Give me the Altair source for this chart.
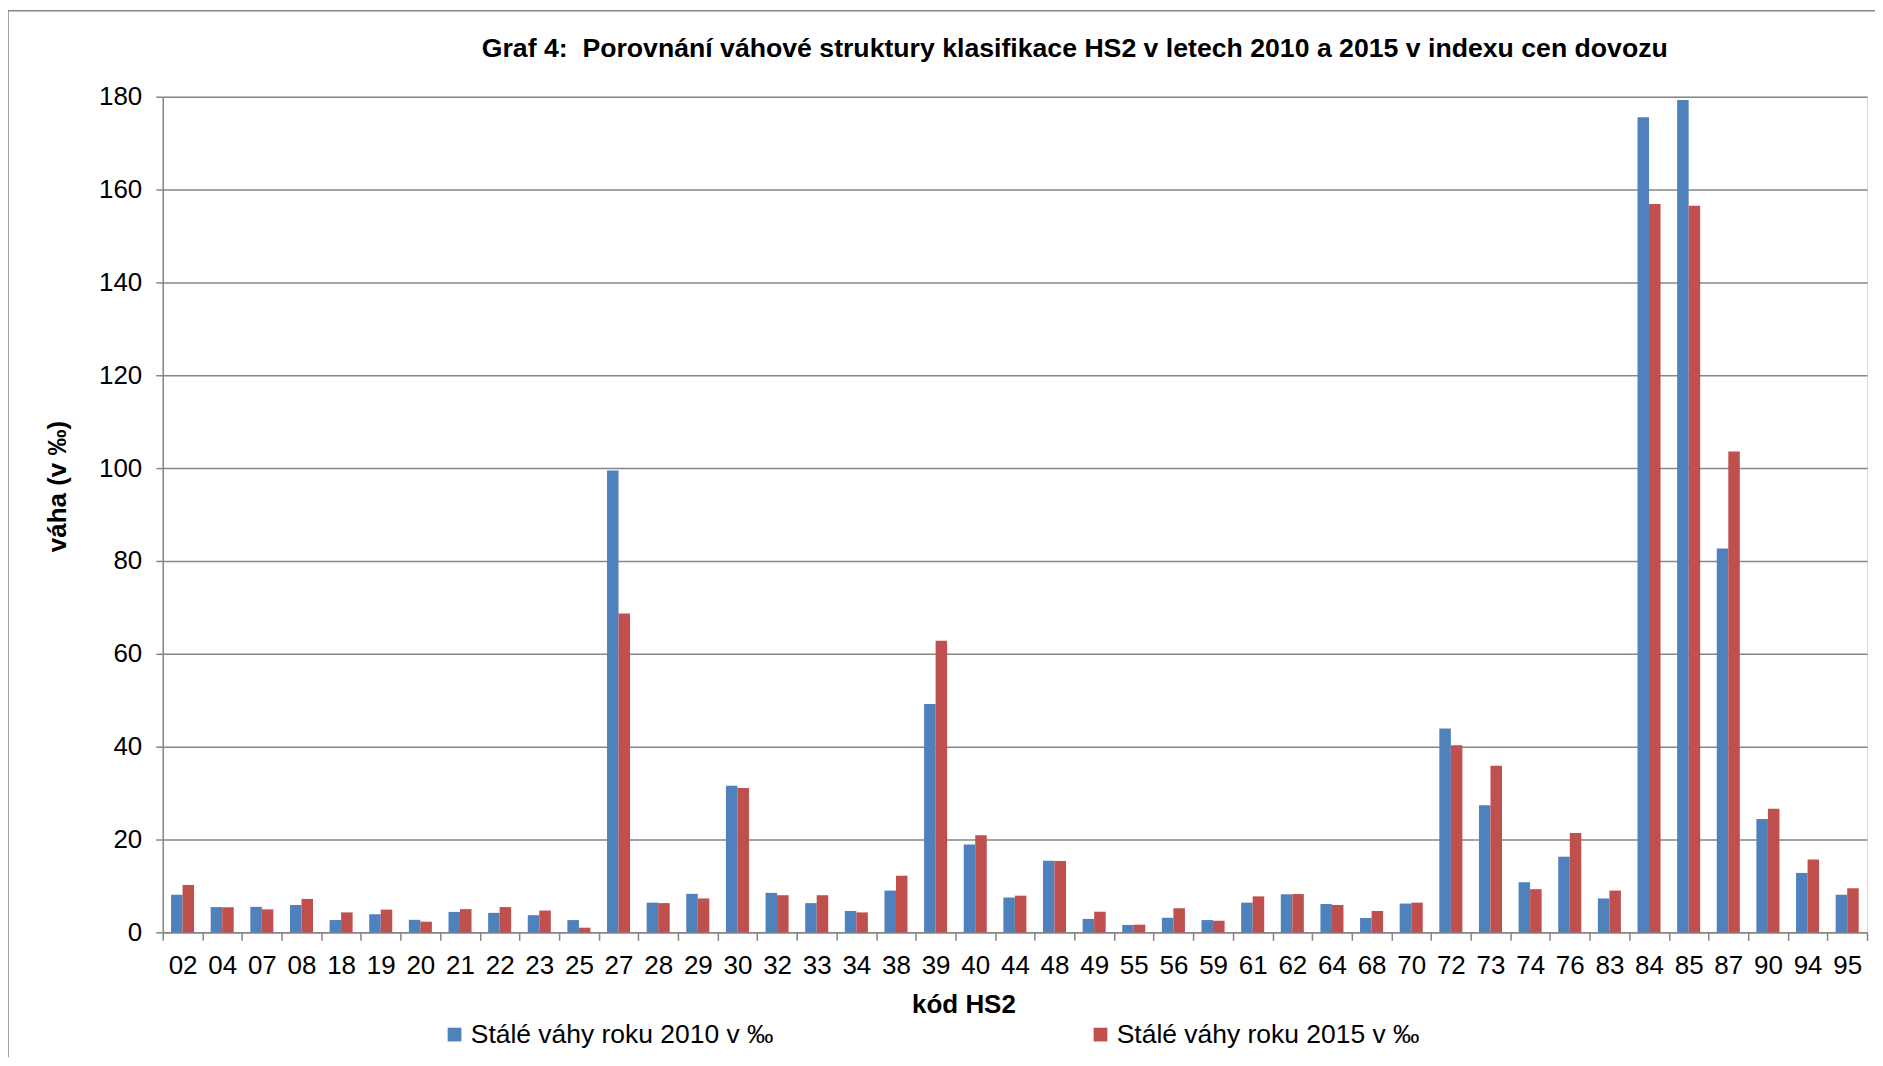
import altair as alt
import pandas as pd

codes = ["02", "04", "07", "08", "18", "19", "20", "21", "22", "23", "25", "27", "28", "29",
         "30", "32", "33", "34", "38", "39", "40", "44", "48", "49", "55", "56", "59", "61",
         "62", "64", "68", "70", "72", "73", "74", "76", "83", "84", "85", "87", "90", "94", "95"]

w2010 = [8.1, 5.45, 5.5, 5.9, 2.65, 3.9, 2.7, 4.4, 4.2, 3.7, 2.65, 99.5, 6.4, 8.3,
         31.6, 8.5, 6.3, 4.6, 9.0, 49.2, 18.9, 7.5, 15.4, 2.9, 1.6, 3.15, 2.65, 6.4,
         8.2, 6.1, 3.1, 6.2, 43.9, 27.4, 10.8, 16.3, 7.3, 175.6, 179.3, 82.7, 24.4, 12.8, 8.1]

w2015 = [10.2, 5.4, 4.95, 7.2, 4.3, 4.9, 2.3, 5.0, 5.45, 4.7, 1.0, 68.7, 6.3, 7.3,
         31.1, 8.0, 8.0, 4.3, 12.2, 62.8, 20.9, 7.9, 15.35, 4.45, 1.65, 5.2, 2.5, 7.75,
         8.25, 5.9, 4.6, 6.4, 40.3, 35.9, 9.3, 21.4, 9.0, 156.9, 156.5, 103.6, 26.6, 15.7, 9.5]

series = ["Stálé váhy roku 2010 v ‰", "Stálé váhy roku 2015 v ‰"]
colors = ["#4F81BD", "#C0504D"]
y_ticks = [0, 20, 40, 60, 80, 100, 120, 140, 160, 180]
title_text = "Graf 4:\u00a0 Porovnání váhové struktury klasifikace HS2 v letech 2010 a 2015 v indexu cen dovozu"

rows = []
for c, a, b in zip(codes, w2010, w2015):
    rows.append({"kod": c, "serie": series[0], "vaha": a})
    rows.append({"kod": c, "serie": series[1], "vaha": b})
df = pd.DataFrame(rows)

FONT = "Liberation Sans"
GRAY = "#868686"
W, H = 1707, 837

bars = alt.Chart(df).mark_bar().encode(
    x=alt.X("kod:N", sort=codes,
            scale=alt.Scale(paddingInner=0, paddingOuter=0),
            axis=alt.Axis(title="kód HS2", labelAngle=0, tickBand="extent",
                          labelFont=FONT, labelFontSize=26, labelColor="black",
                          labelPadding=12, tickSize=8, tickColor=GRAY, tickWidth=1.5,
                          domainColor=GRAY, domainWidth=1.5,
                          titleFont=FONT, titleFontSize=26, titleFontWeight="bold",
                          titleColor="black", titleX=802, titleY=72,
                          titleBaseline="middle", titleAlign="center", grid=False)),
    xOffset=alt.XOffset("serie:N", sort=series,
                        scale=alt.Scale(paddingOuter=0.72, paddingInner=0)),
    y=alt.Y("vaha:Q", scale=alt.Scale(domain=[0, 180], nice=False),
            axis=alt.Axis(values=y_ticks, title="váha (v ‰)",
                          labelFont=FONT, labelFontSize=26, labelColor="black",
                          labelPadding=14, tickSize=7, tickColor=GRAY, tickWidth=1.5,
                          domainColor=GRAY, domainWidth=1.5,
                          grid=True, gridColor=GRAY, gridWidth=1.5,
                          titleFont=FONT, titleFontSize=26, titleFontWeight="bold",
                          titleColor="black", titleX=-105, titleY=390, titleAngle=270,
                          titleBaseline="middle", titleAlign="center")),
    color=alt.Color("serie:N", sort=series,
                    scale=alt.Scale(domain=series, range=colors),
                    legend=alt.Legend(orient="none", legendX=279, legendY=926,
                                      direction="horizontal", title=None,
                                      symbolType="square", symbolSize=190,
                                      symbolStrokeWidth=0, labelFont=FONT,
                                      labelFontSize=26.5, labelColor="black",
                                      labelOffset=3, labelLimit=500,
                                      columnPadding=314, padding=0)),
)

frame_df = pd.DataFrame({"a": [0]})
frame_top = alt.Chart(frame_df).mark_rule(color=GRAY, strokeWidth=1.5).encode(
    x=alt.value(-155), x2=alt.value(W + 8), y=alt.value(-86))
frame_left = alt.Chart(frame_df).mark_rule(color=GRAY, strokeWidth=1.5).encode(
    x=alt.value(-155), y=alt.value(-86), y2=alt.value(H + 125))

chart = alt.layer(frame_top, frame_left, bars).properties(
    width=W, height=H,
    title=alt.TitleParams(title_text, anchor="middle", dx=60, font=FONT, fontSize=26.7,
                          fontWeight="bold", color="black", offset=-53),
    autosize=alt.AutoSizeParams(type="none"),
    padding={"left": 155, "top": 88, "right": 8, "bottom": 125},
).configure_view(stroke=None).configure(background="white")

chart.save("out.html", embed_options={"renderer": "svg", "actions": False})
